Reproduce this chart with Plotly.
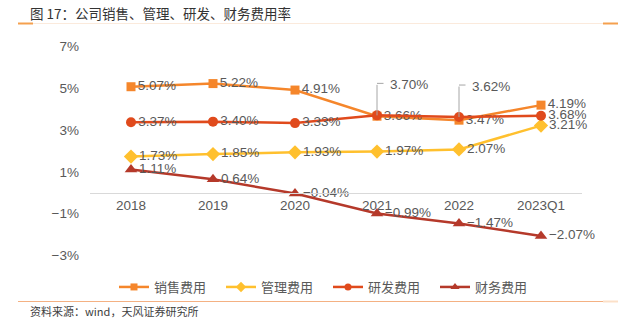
import plotly.graph_objects as go

categories = ["2018", "2019", "2020", "2021", "2022", "2023Q1"]
sales = [5.07, 5.22, 4.91, 3.66, 3.47, 4.19]
admin = [1.73, 1.85, 1.93, 1.97, 2.07, 3.21]
rnd = [3.37, 3.40, 3.33, 3.70, 3.62, 3.68]
fin = [1.11, 0.64, -0.04, -0.99, -1.47, -2.07]
names = ["销售费用", "管理费用", "研发费用", "财务费用"]
ytickvals = [-3, -1, 1, 3, 5, 7]
yticktext = ["\u22123%", "\u22121%", "1%", "3%", "5%", "7%"]

W, H = 631, 322
L, R, T, B = 90, 49, 38, 54
YR = [-3.6, 7.4]

FONT = "Liberation Sans, Arial, Noto Sans CJK SC"
LBL = "#595959"

def fmt(v):
    s = f"{abs(v):.2f}%"
    return ("\u2212" + s) if v < 0 else s

fig = go.Figure()
series = [
    (sales, "#F5862B", "square", 9, 7),
    (admin, "#FFC02E", "diamond", 11, 8),
    (rnd, "#E04A1C", "circle", 10, 7),
    (fin, "#B5392A", "triangle-up", 11, 8),
]
for i, (vals, col, sym, ms, lms) in enumerate(series):
    texts = [fmt(v) for v in vals]
    if i == 2:
        texts[3] = ""
        texts[4] = ""
    fig.add_trace(go.Scatter(
        x=categories, y=vals, name=names[i], mode="lines+markers+text",
        line=dict(color=col, width=2.5),
        marker=dict(symbol=sym, size=ms, color=col),
        text=texts, textposition="middle right",
        textfont=dict(size=13.5, color=LBL, family=FONT),
        cliponaxis=False, showlegend=False,
    ))
for i, (vals, col, sym, ms, lms) in enumerate(series):
    fig.add_trace(go.Scatter(
        x=[None], y=[None], name=names[i], mode="lines+markers",
        line=dict(color=col, width=2.5),
        marker=dict(symbol=sym, size=lms, color=col),
        showlegend=True,
    ))

# callouts for R&D 2021, 2022 (elbow leader lines)
LEAD = "#A6A6A6"
for idx in (3, 4):
    fig.add_annotation(x=idx, y=rnd[idx], xref="x", yref="y", text="", showarrow=True,
                       arrowhead=0, arrowwidth=1, arrowcolor=LEAD, ax=0, ay=-32, standoff=0)
    fig.add_annotation(x=idx, y=rnd[idx], xref="x", yref="y", text="", showarrow=True,
                       arrowhead=0, arrowwidth=1, arrowcolor=LEAD, ax=8, ay=0, yshift=32, standoff=0)
    fig.add_annotation(x=idx, y=rnd[idx], xref="x", yref="y", text=fmt(rnd[idx]), showarrow=False,
                       xanchor="left", yanchor="middle", xshift=11, yshift=31,
                       font=dict(size=13.5, color=LBL, family=FONT))

pw = W - L - R
ph = H - T - B
def px(x):
    return (x - L) / pw
def py(y):
    return (H - B - y) / ph

shapes = [
    dict(type="line", xref="paper", yref="paper", x0=px(18), x1=px(618), y0=py(23.5), y1=py(23.5),
         line=dict(color="#FBEADC", width=1.2)),
    dict(type="line", xref="paper", yref="paper", x0=px(18), x1=px(33), y0=py(23.5), y1=py(23.5),
         line=dict(color="#F5A04E", width=2)),
    dict(type="line", xref="paper", yref="paper", x0=px(603), x1=px(618), y0=py(23.5), y1=py(23.5),
         line=dict(color="#F5A04E", width=2)),
    dict(type="line", xref="paper", yref="paper", x0=px(18), x1=px(618), y0=py(301.5), y1=py(301.5),
         line=dict(color="#F4B183", width=1.2)),
    dict(type="line", xref="paper", yref="paper", x0=px(603), x1=px(618), y0=py(301.5), y1=py(301.5),
         line=dict(color="#FCE0C8", width=2)),
]

fig.add_annotation(xref="paper", yref="paper", x=px(28), y=py(13), xanchor="left", yanchor="middle",
                   text="图 17：公司销售、管理、研发、财务费用率", showarrow=False,
                   font=dict(size=13.5, color="#333333", family="Noto Sans CJK SC, Liberation Sans"))
fig.add_annotation(xref="paper", yref="paper", x=px(28), y=py(311), xanchor="left", yanchor="middle",
                   text="资料来源：wind，天风证券研究所", showarrow=False,
                   font=dict(size=11, color="#404040", family="Noto Sans CJK SC, Liberation Sans"))

zero_pos = (0 - YR[0]) / (YR[1] - YR[0])

fig.update_layout(
    width=W, height=H, margin=dict(l=L, r=R, t=T, b=B, autoexpand=False),
    paper_bgcolor="white", plot_bgcolor="white",
    font=dict(family=FONT, size=13.5, color=LBL),
    shapes=shapes,
    showlegend=True,
    legend=dict(orientation="h", xref="container", yref="container", x=114 / W, xanchor="left",
                y=1 - 287 / H, yanchor="middle", font=dict(size=13, color=LBL,
                family="Noto Sans CJK SC, Liberation Sans"),
                entrywidth=62, entrywidthmode="pixels", itemwidth=30, traceorder="normal",
                bgcolor="rgba(0,0,0,0)"),
    xaxis=dict(type="category", anchor="free", position=zero_pos, showline=True, linecolor="#D9D9D9",
               linewidth=1, showgrid=False, ticks="", tickfont=dict(size=13.5, color=LBL),
               range=[-0.5, 5.5]),
    yaxis=dict(range=YR, tickvals=ytickvals, ticktext=yticktext, showgrid=False, zeroline=False,
               showline=False, ticks="", tickfont=dict(size=13.5, color=LBL), ticklabelstandoff=10),
)

fig.write_html("out.html")
